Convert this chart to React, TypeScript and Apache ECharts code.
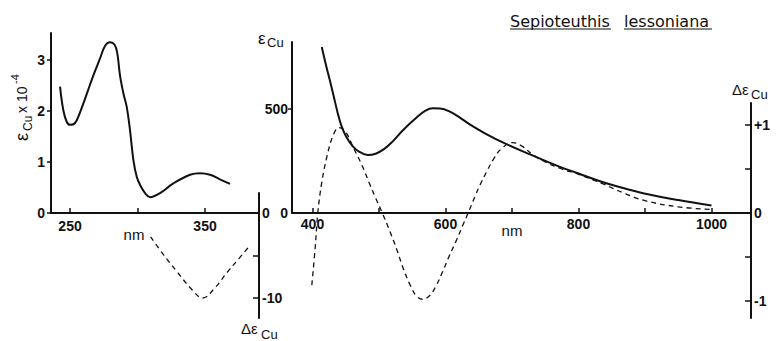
import React, { useEffect, useRef } from "react";
import * as echarts from "echarts";

// ---- Data ----
// Left panel: UV absorption (epsilon_Cu x 10^-4)
const leftAbsNm = [242.6, 245, 247.5, 250, 252.5, 255, 259.9, 263, 267.3, 272.2, 276, 279.5, 283, 285, 287, 289.5, 292, 294.4, 296.9, 299.4, 301.9, 305.6, 309.3, 316.7, 326.5, 338.9, 346.3, 353.7, 361, 368.5];
const leftAbsVal = [2.48, 2.02, 1.79, 1.73, 1.74, 1.82, 2.15, 2.38, 2.70, 3.03, 3.28, 3.35, 3.30, 3.13, 2.70, 2.35, 2.08, 1.63, 1.04, 0.71, 0.55, 0.39, 0.31, 0.39, 0.58, 0.75, 0.78, 0.75, 0.66, 0.57];
// Left panel: CD (delta epsilon)
const leftCdNm = [309.5, 319, 329, 340, 348, 357, 366, 374, 382];
const leftCdVal = [-2.8, -4.9, -6.9, -9.0, -10.0, -8.8, -7.0, -5.5, -4.0];
// Right panel: visible absorption (epsilon_Cu)
const rightAbsNm = [414, 420, 426, 432, 438, 444, 451, 460, 470, 483, 495, 508, 520, 536, 557, 570, 581, 592, 605, 620, 637, 660, 687, 727, 772, 800, 837, 870, 897, 950, 1000];
const rightAbsVal = [798, 715, 639, 560, 480, 415, 365, 323, 295, 279, 285, 308, 342, 398, 460, 492, 503, 502, 490, 462, 425, 382, 338, 282, 222, 190, 148, 118, 95, 62, 36];
// Right panel: CD (delta epsilon)
const rightCdNm = [399, 404, 408, 414, 422, 431, 440, 450, 461, 474, 486, 495, 505, 516, 527, 537, 547, 556, 566, 576, 585, 595, 605, 617, 626, 634, 645, 652, 662, 672, 684, 701, 715, 730, 750, 775, 800, 837, 870, 900, 950, 1000];
const rightCdVal = [-0.82, -0.4, 0, 0.35, 0.65, 0.88, 0.97, 0.92, 0.75, 0.55, 0.33, 0.17, 0, -0.2, -0.42, -0.64, -0.82, -0.94, -0.98, -0.94, -0.84, -0.68, -0.5, -0.3, -0.14, 0, 0.2, 0.32, 0.47, 0.61, 0.73, 0.8, 0.76, 0.67, 0.58, 0.5, 0.44, 0.33, 0.22, 0.14, 0.07, 0.04];

// Ticks / labels
const leftXTicks = [250, 300, 350];
const leftXLabels = [250, 350];
const leftYTicks = [0, 1, 2, 3];
const leftCdTicks = [-5, -10];
const leftCdLabels = [0, -10];
const rightXTicks = [400, 500, 600, 700, 800, 900, 1000];
const rightXLabels = [400, 600, 800, 1000];
const rightYTicks = [500];
const rightYLabels = [0, 500];
const rightCdTicks = [-1, -0.5, 0.5, 1];
const rightCdLabels = [-1, 0, 1];

const zip = (a: number[], b: number[]) => a.map((v, i) => [v, b[i]]);

const NUM_FONT = "'Liberation Sans', Arial, sans-serif";
const NAME_FONT = "'Liberation Sans', Arial, sans-serif";
const INK = "#111";

export default function App() {
  const ref = useRef<HTMLDivElement>(null);
  useEffect(() => {
    if (!ref.current) return;
    const chart = echarts.init(ref.current, undefined, { renderer: "svg" });
    const axisLine = { show: true, onZero: false, lineStyle: { color: INK, width: 2 } };
    const numLabel = { fontFamily: NUM_FONT, fontWeight: "bold" as const, fontSize: 14, color: INK };
    const plain = (v: number) => String(v);
    const hiddenX = (gridIndex: number, min: number, max: number) => ({
      type: "value", gridIndex, min, max, show: false,
    });
    const solid = { color: INK, width: 2 };
    const dashed = { color: INK, width: 1.3, type: [5, 4] as number[] };
    const txt = (x: number, y: number, text: string, size: number, extra: any = {}) => ({
      type: "text", x, y,
      style: { text, fontSize: size, fontFamily: NAME_FONT, fill: INK, ...extra },
    });

    chart.setOption({
      animation: false,
      backgroundColor: "#fff",
      grid: [
        { left: 51, top: 33, width: 207.5, height: 180 },
        { left: 51, top: 193, width: 208, height: 125 },
        { left: 292, top: 42, width: 459, height: 171 },
        { left: 292, top: 103, width: 459, height: 215 },
      ],
      xAxis: [
        {
          type: "value", gridIndex: 0, min: 235.9, max: 389.6,
          axisLine,
          splitLine: { show: false },
          axisTick: { inside: true, length: 5, customValues: leftXTicks, lineStyle: { color: INK, width: 1.5 } },
          axisLabel: { ...numLabel, margin: 6, customValues: leftXLabels, formatter: plain },
        },
        hiddenX(1, 235.9, 389.6),
        {
          type: "value", gridIndex: 2, min: 369.2, max: 1059.4,
          axisLine,
          splitLine: { show: false },
          axisTick: { inside: true, length: 5, customValues: rightXTicks, lineStyle: { color: INK, width: 1.5 } },
          axisLabel: { ...numLabel, margin: 4, customValues: rightXLabels, formatter: plain },
        },
        hiddenX(3, 369.2, 1059.4),
      ],
      yAxis: [
        {
          type: "value", gridIndex: 0, min: 0, max: 3.53,
          axisLine,
          splitLine: { show: false },
          axisTick: { show: true, length: 4, customValues: leftYTicks, lineStyle: { color: INK, width: 1.5 } },
          axisLabel: { ...numLabel, margin: 6, customValues: leftYTicks, formatter: plain },
        },
        {
          type: "value", gridIndex: 1, position: "right", min: -12.35, max: 2.35,
          axisLine,
          splitLine: { show: false },
          axisTick: { show: true, inside: true, length: 6, customValues: leftCdTicks, lineStyle: { color: INK, width: 1.5 } },
          axisLabel: { ...numLabel, margin: 3, customValues: leftCdLabels, formatter: plain },
        },
        {
          type: "value", gridIndex: 2, min: 0, max: 822,
          axisLine,
          splitLine: { show: false },
          axisTick: { show: true, length: 4, customValues: rightYTicks, lineStyle: { color: INK, width: 1.5 } },
          axisLabel: { ...numLabel, margin: 4, customValues: rightYLabels, formatter: plain },
        },
        {
          type: "value", gridIndex: 3, position: "right", min: -1.193, max: 1.25,
          axisLine,
          splitLine: { show: false },
          axisTick: { show: true, inside: true, length: 6, customValues: rightCdTicks, lineStyle: { color: INK, width: 1.5 } },
          axisLabel: {
            ...numLabel, margin: 3, customValues: rightCdLabels,
            formatter: (v: number) => (v > 0 ? "+" + v : String(v)),
          },
        },
      ],
      series: [
        { type: "line", xAxisIndex: 0, yAxisIndex: 0, data: zip(leftAbsNm, leftAbsVal), smooth: 0.4, symbol: "none", lineStyle: solid },
        { type: "line", xAxisIndex: 1, yAxisIndex: 1, data: zip(leftCdNm, leftCdVal), smooth: 0.4, symbol: "none", lineStyle: dashed },
        { type: "line", xAxisIndex: 2, yAxisIndex: 2, data: zip(rightAbsNm, rightAbsVal), smooth: 0.4, symbol: "none", lineStyle: solid },
        { type: "line", xAxisIndex: 3, yAxisIndex: 3, data: zip(rightCdNm, rightCdVal), smooth: 0.4, symbol: "none", lineStyle: dashed },
      ],
      graphic: [
        // rotated left axis name: ε_Cu x 10^-4
        {
          type: "group", x: 22, y: 141, rotation: Math.PI / 2,
          children: [
            { type: "text", x: 0, y: 0, style: { text: "ε", fontSize: 18, fontFamily: NAME_FONT, fill: INK, verticalAlign: "middle" } },
            { type: "text", x: 10, y: 6, style: { text: "Cu", fontSize: 12, fontFamily: NAME_FONT, fill: INK, verticalAlign: "middle" } },
            { type: "text", x: 28, y: 0, style: { text: "x 10", fontSize: 14, fontFamily: NAME_FONT, fill: INK, verticalAlign: "middle" } },
            { type: "text", x: 57, y: -7, style: { text: "-4", fontSize: 11, fontFamily: NAME_FONT, fill: INK, verticalAlign: "middle" } },
          ],
        },
        // right abs axis name
        txt(258, 30, "ε", 17),
        txt(267, 36, "Cu", 13),
        // left CD axis name
        txt(241, 321, "Δε", 15),
        txt(261, 328, "Cu", 13),
        // right CD axis name
        txt(732, 82, "Δε", 15),
        txt(751, 88, "Cu", 13),
        // nm labels
        txt(134, 234, "nm", 15, { align: "center", verticalAlign: "middle" }),
        txt(512, 230, "nm", 15, { align: "center", verticalAlign: "middle" }),
        // title
        txt(510, 13, "Sepioteuthis", 16, { fontFamily: "'DejaVu Sans', sans-serif" }),
        txt(624, 13, "lessoniana", 16, { fontFamily: "'DejaVu Sans', sans-serif" }),
        { type: "line", shape: { x1: 510, y1: 29, x2: 611, y2: 29 }, style: { stroke: INK, lineWidth: 1.2 } },
        { type: "line", shape: { x1: 624, y1: 29, x2: 712, y2: 29 }, style: { stroke: INK, lineWidth: 1.2 } },
      ],
    });
    return () => chart.dispose();
  }, []);
  return (
    <div
      ref={ref}
      style={{ position: "fixed", left: 0, top: 0, width: 776, height: 341, background: "#fff" }}
    />
  );
}
